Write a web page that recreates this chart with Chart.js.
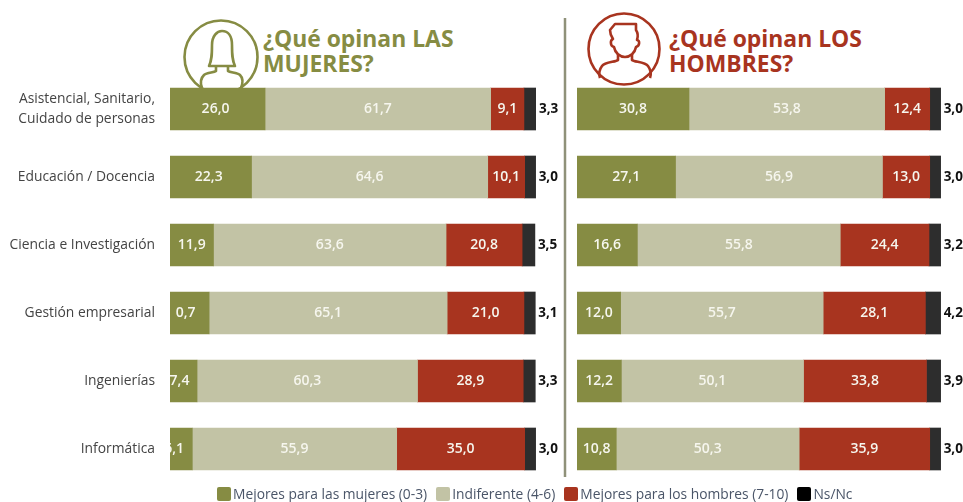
<!DOCTYPE html>
<html lang="es">
<head>
<meta charset="utf-8">
<script src="https://cdn.jsdelivr.net/npm/chart.js@4/dist/chart.umd.min.js"></script>
<style>
html,body{margin:0;padding:0;background:#fff;width:963px;height:502px;overflow:hidden;font-family:"Open Sans",sans-serif}
canvas{position:absolute;top:0}
.title{position:absolute;font:700 22.9px/25px "Open Sans",sans-serif;white-space:pre}
svg{position:absolute;left:0;top:0}
#legend{position:absolute;left:217px;top:485px;display:flex;font-size:13.8px;line-height:18px;color:#4a5568;white-space:nowrap}
#legend span{display:flex;align-items:center;margin-right:9px}
#legend i{display:inline-block;width:14px;height:14px;margin-right:2px;border-radius:2px}
</style>
</head>
<body>
<svg width="963" height="502" fill="none" stroke-width="2.6" stroke-linejoin="round">
  <line x1="565" y1="18" x2="565" y2="477" stroke="#8f9179" stroke-width="2.5"/>
  <g stroke="#868c43">
    <circle cx="221" cy="57" r="36.5"/>
    <path d="M209 66c3-6 3-12 3-21c0-9 5-14 10-14c6 0 10 5 10 14c0 9 0 15 3 21z"/>
    <path d="M216 66v5c-2 2-9 1-12 4c-3 3-4 8-2 13M228 66v5c2 2 9 1 12 4c3 3 3 8 1 13"/>
  </g>
  <g stroke="#a8341f">
    <circle cx="624" cy="49" r="35.5"/>
    <path d="M610 30l5-6h21v6c2 3 2 7 1 10c3 0 3 6-1 7c-1 6-6 10-11 10c-5 0-10-4-11-10c-4-1-4-7-1-8c-2-3-3-6-3-9z"/>
    <path d="M618 54v6c-2 2-13 2-16 6c-3 4-3 9-2 12M632 54v6c2 2 13 2 16 6c3 4 3 9 2 12"/>
  </g>
</svg>
<div class="title" style="left:263px;top:26px;color:#868c43">¿Qué opinan LAS
MUJERES?</div>
<div class="title" style="left:669px;top:26px;color:#a8341f">¿Qué opinan LOS
HOMBRES?</div>
<canvas id="left" width="560" height="502" style="left:0;width:560px;height:502px"></canvas>
<canvas id="right" width="397" height="502" style="left:566px;width:397px;height:502px"></canvas>
<div id="legend"></div>
<script>
const categories = [["Asistencial, Sanitario,","Cuidado de personas"],"Educación / Docencia","Ciencia e Investigación","Gestión empresarial","Ingenierías","Informática"];
const seriesNames = ["Mejores para las mujeres (0-3)","Indiferente (4-6)","Mejores para los hombres (7-10)","Ns/Nc"];
const seriesColors = ["#868c43","#c2c3a5","#a8341f","#2d2d2d"];
const legendColors = ["#868c43","#c2c3a5","#a8341f","#000000"];

const mujeresMejores = [26.0,22.3,11.9,10.7,7.4,6.1];
const mujeresIndiferente = [61.7,64.6,63.6,65.1,60.3,55.9];
const mujeresHombres = [9.1,10.1,20.8,21.0,28.9,35.0];
const mujeresNsNc = [3.3,3.0,3.5,3.1,3.3,3.0];
// printed labels of the first left-hand segment, as the picture shows them
const mujeresMejoresLabels = ["26,0","22,3","11,9","0,7","7,4","6,1"];

const hombresMejores = [30.8,27.1,16.6,12.0,12.2,10.8];
const hombresIndiferente = [53.8,56.9,55.8,55.7,50.1,50.3];
const hombresHombres = [12.4,13.0,24.4,28.1,33.8,35.9];
const hombresNsNc = [3.0,3.0,3.2,4.2,3.9,3.0];

// small hand shifts of the first-segment labels, which run off the left edge in the original
const firstLabelShift = [-2,-2,0,-4,-4,-7];

const labelPlugin = {
  id:'segmentLabels',
  afterDatasetsDraw(chart){
    const {ctx,chartArea} = chart;
    const opt = chart.options.plugins.segmentLabels;
    chart.data.datasets.forEach((ds,di)=>{
      chart.getDatasetMeta(di).data.forEach((bar,i)=>{
        const txt = (di===0 && opt.firstLabels) ? opt.firstLabels[i] : ds.data[i].toFixed(1).replace('.',',');
        ctx.save();
        ctx.beginPath();
        ctx.rect(chartArea.left,0,chart.width-chartArea.left,chart.height);
        ctx.clip();
        ctx.textBaseline='middle';
        if(di===3){
          ctx.font='700 13.5px "Open Sans"';
          ctx.fillStyle='#111';
          ctx.textAlign='left';
          ctx.fillText(txt,bar.x+3,bar.y);
        }else{
          ctx.font='600 14px "Open Sans"';
          ctx.fillStyle='#f6f6ee';
          ctx.textAlign='center';
          const dx = di===0 ? opt.firstShift[i] : 0;
          ctx.fillText(txt,(bar.x+bar.base)/2+dx,bar.y);
        }
        ctx.restore();
      });
    });
  }
};

function makeChart(id,rows,leftWidth,rightPad,showLabels,firstShift,firstLabels){
  return new Chart(document.getElementById(id),{
    type:'bar',
    plugins:[labelPlugin],
    data:{
      labels:categories,
      datasets:rows.map((d,k)=>({label:seriesNames[k],data:d,backgroundColor:seriesColors[k],stack:'s',barThickness:42,borderWidth:0}))
    },
    options:{
      indexAxis:'y',
      responsive:false,
      animation:false,
      layout:{padding:{top:75,bottom:19,left:0,right:rightPad}},
      plugins:{legend:{display:false},title:{display:false},tooltip:{enabled:false},segmentLabels:{firstShift,firstLabels}},
      scales:{
        x:{stacked:true,min:0,max:100.1,display:false},
        y:{stacked:true,
           grid:{display:false},border:{display:false},
           afterFit(s){s.width=leftWidth;s.paddingTop=0;s.paddingBottom=0;},
           ticks:{display:showLabels,padding:7,color:'#444',font:{family:'"Open Sans"',size:13.85,lineHeight:1.42}}}
      }
    }
  });
}
makeChart('left',[mujeresMejores,mujeresIndiferente,mujeresHombres,mujeresNsNc],170,24,true,firstLabelShift,mujeresMejoresLabels);
makeChart('right',[hombresMejores,hombresIndiferente,hombresHombres,hombresNsNc],11,22,false,[0,0,0,0,0,0],null);

const legend=document.getElementById('legend');
seriesNames.forEach((n,k)=>{
  const s=document.createElement('span');
  const i=document.createElement('i');
  i.style.background=legendColors[k];
  s.appendChild(i);
  s.appendChild(document.createTextNode(n));
  legend.appendChild(s);
});
</script>
</body>
</html>
